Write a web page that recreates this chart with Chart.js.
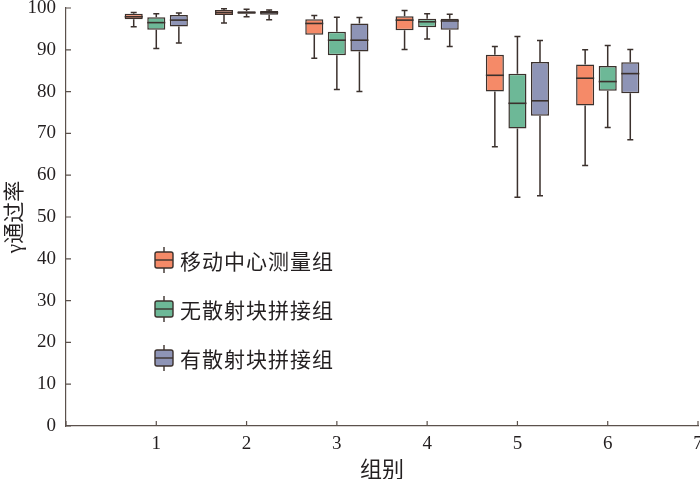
<!DOCTYPE html>
<html lang="zh-CN">
<head>
<meta charset="UTF-8">
<title>γ通过率</title>
<script src="https://cdn.jsdelivr.net/npm/chart.js"></script>
<style>
  html, body { margin: 0; padding: 0; background: #fff; }
  #box { width: 700px; height: 479px; }
</style>
</head>
<body>
<div id="box"><canvas id="grafico"></canvas></div>
<script>
// grupos no eixo x
const grupos = [1, 2, 3, 4, 5, 6];
const rotulos = ['移动中心测量组', '无散射块拼接组', '有散射块拼接组'];
const cores = ['#f58a68', '#6db897', '#8e94b6'];

// 移动中心测量组
const movelMin = [95.5, 96.4, 88.0, 90.1, 66.8, 62.3];
const movelQ1  = [97.3, 98.3, 93.6, 94.7, 80.0, 76.7];
const movelMed = [97.9, 98.9, 96.3, 97.1, 83.9, 83.2];
const movelQ3  = [98.6, 99.5, 97.3, 98.0, 88.8, 86.5];
const movelMax = [98.9, 99.8, 98.2, 99.4, 90.8, 90.0];

// 无散射块拼接组
const semMin = [90.3, 97.9, 80.5, 92.6, 54.7, 71.4];
const semQ1  = [94.8, 98.6, 88.7, 95.4, 71.2, 80.2];
const semMed = [96.5, 98.9, 92.3, 96.7, 77.2, 82.4];
const semQ3  = [97.8, 99.2, 94.3, 97.4, 84.3, 86.1];
const semMax = [98.6, 99.7, 97.8, 98.6, 93.2, 91.0];

// 有散射块拼接组
const comMin = [91.6, 97.2, 80.0, 90.8, 55.1, 68.5];
const comQ1  = [95.6, 98.4, 89.6, 94.8, 74.2, 79.6];
const comMed = [97.1, 98.9, 92.3, 96.9, 77.8, 84.3];
const comQ3  = [98.3, 99.3, 96.3, 97.4, 87.1, 87.0];
const comMax = [98.8, 99.5, 97.7, 98.5, 92.2, 90.1];

const xTicks = [0, 1, 2, 3, 4, 5, 6, 7];
const yTicks = [0, 10, 20, 30, 40, 50, 60, 70, 80, 90, 100];

const series = [
  { min: movelMin, q1: movelQ1, med: movelMed, q3: movelQ3, max: movelMax },
  { min: semMin, q1: semQ1, med: semMed, q3: semQ3, max: semMax },
  { min: comMin, q1: comQ1, med: comMed, q3: comQ3, max: comMax }
];

const contorno = '#3b312d';
const eixoCor = '#5b514c';

const caixas = {
  id: 'caixas',
  beforeDatasetsDraw(chart) {
    const { ctx, scales: { y } } = chart;
    ctx.save();
    ctx.strokeStyle = contorno;
    ctx.lineWidth = 1.5;
    series.forEach((s, d) => {
      chart.getDatasetMeta(d).data.forEach((el, i) => {
        const x = el.x;
        const pMax = y.getPixelForValue(s.max[i]);
        const pMin = y.getPixelForValue(s.min[i]);
        ctx.beginPath();
        ctx.moveTo(x, y.getPixelForValue(s.q3[i]));
        ctx.lineTo(x, pMax);
        ctx.moveTo(x, y.getPixelForValue(s.q1[i]));
        ctx.lineTo(x, pMin);
        ctx.moveTo(x - 3, pMax); ctx.lineTo(x + 3, pMax);
        ctx.moveTo(x - 3, pMin); ctx.lineTo(x + 3, pMin);
        ctx.stroke();
      });
    });
    ctx.restore();
  },
  afterDatasetsDraw(chart) {
    const { ctx, scales: { y } } = chart;
    ctx.save();
    ctx.strokeStyle = contorno;
    ctx.lineWidth = 1.6;
    series.forEach((s, d) => {
      chart.getDatasetMeta(d).data.forEach((el, i) => {
        const py = y.getPixelForValue(s.med[i]);
        ctx.beginPath();
        ctx.moveTo(el.x - el.width / 2, py);
        ctx.lineTo(el.x + el.width / 2, py);
        ctx.stroke();
      });
    });
    ctx.restore();
  },
  afterDraw(chart) {
    const { ctx, chartArea: a, scales: { x, y } } = chart;
    ctx.save();
    // marcas para dentro
    ctx.strokeStyle = eixoCor;
    ctx.lineWidth = 1.2;
    ctx.beginPath();
    xTicks.forEach(v => {
      const px = x.getPixelForValue(v);
      ctx.moveTo(px, a.bottom); ctx.lineTo(px, a.bottom - 5);
    });
    yTicks.forEach(v => {
      const py = y.getPixelForValue(v);
      ctx.moveTo(a.left, py); ctx.lineTo(a.left + 5, py);
    });
    ctx.stroke();

    // legenda
    rotulos.forEach((txt, k) => {
      const cy = 260 + k * 49;
      const lx = 155, w = 18;
      ctx.strokeStyle = contorno;
      ctx.lineWidth = 1.4;
      ctx.beginPath();
      ctx.moveTo(lx + w / 2, cy - 13); ctx.lineTo(lx + w / 2, cy + 13);
      ctx.stroke();
      ctx.fillStyle = cores[k];
      ctx.beginPath();
      ctx.roundRect(lx, cy - 8, w, 16, 2);
      ctx.fill();
      ctx.stroke();
      ctx.beginPath();
      ctx.moveTo(lx, cy); ctx.lineTo(lx + w, cy);
      ctx.stroke();
      ctx.fillStyle = '#231f20';
      ctx.font = '21px "Noto Sans CJK SC"';
      ctx.letterSpacing = '1px';
      ctx.textBaseline = 'middle';
      ctx.textAlign = 'left';
      ctx.fillText(txt, 180, cy + 1);
    });
    ctx.restore();
  }
};

new Chart(document.getElementById('grafico'), {
  type: 'bar',
  data: {
    datasets: series.map((s, d) => ({
      label: rotulos[d],
      data: grupos.map((g, i) => ({ x: g, y: [s.q1[i], s.q3[i]] })),
      backgroundColor: cores[d],
      borderColor: contorno,
      borderWidth: 1.5,
      borderSkipped: false,
      categoryPercentage: 0.75,
      barPercentage: 0.8
    }))
  },
  options: {
    responsive: true,
    maintainAspectRatio: false,
    animation: false,
    layout: { padding: { left: 0, right: 2, top: 8, bottom: 0 } },
    plugins: { legend: { display: false }, tooltip: { enabled: false } },
    scales: {
      x: {
        type: 'linear',
        min: 0,
        max: 7,
        offset: false,
        afterBuildTicks: s => { s.ticks = xTicks.map(v => ({ value: v })); },
        afterFit: s => { s.height = 53; s.paddingLeft = 0; s.paddingRight = 0; },
        grid: { display: false, drawTicks: false, offset: false },
        border: { display: true, color: eixoCor, width: 1.2 },
        ticks: {
          padding: 7,
          color: '#231f20',
          font: { family: '"Liberation Serif"', size: 19 },
          callback: v => (v === 0 ? '' : v)
        },
        title: {
          display: true,
          text: '组别',
          color: '#231f20',
          font: { family: '"Noto Sans CJK SC"', size: 22, lineHeight: 0.9 },
          padding: 0
        }
      },
      y: {
        min: 0,
        max: 100,
        afterBuildTicks: s => { s.ticks = yTicks.map(v => ({ value: v })); },
        afterFit: s => { s.width = 66; s.paddingTop = 0; s.paddingBottom = 0; },
        grid: { display: false, drawTicks: false },
        border: { display: true, color: eixoCor, width: 1.2 },
        ticks: {
          padding: 10,
          color: '#231f20',
          font: { family: '"Liberation Serif"', size: 19 }
        },
        title: {
          display: true,
          text: 'γ通过率',
          color: '#231f20',
          font: { family: '"Liberation Serif", "Noto Sans CJK SC"', size: 21, lineHeight: 1.2 },
          padding: { top: 3, bottom: 0 }
        }
      }
    }
  },
  plugins: [caixas]
});
</script>
</body>
</html>
